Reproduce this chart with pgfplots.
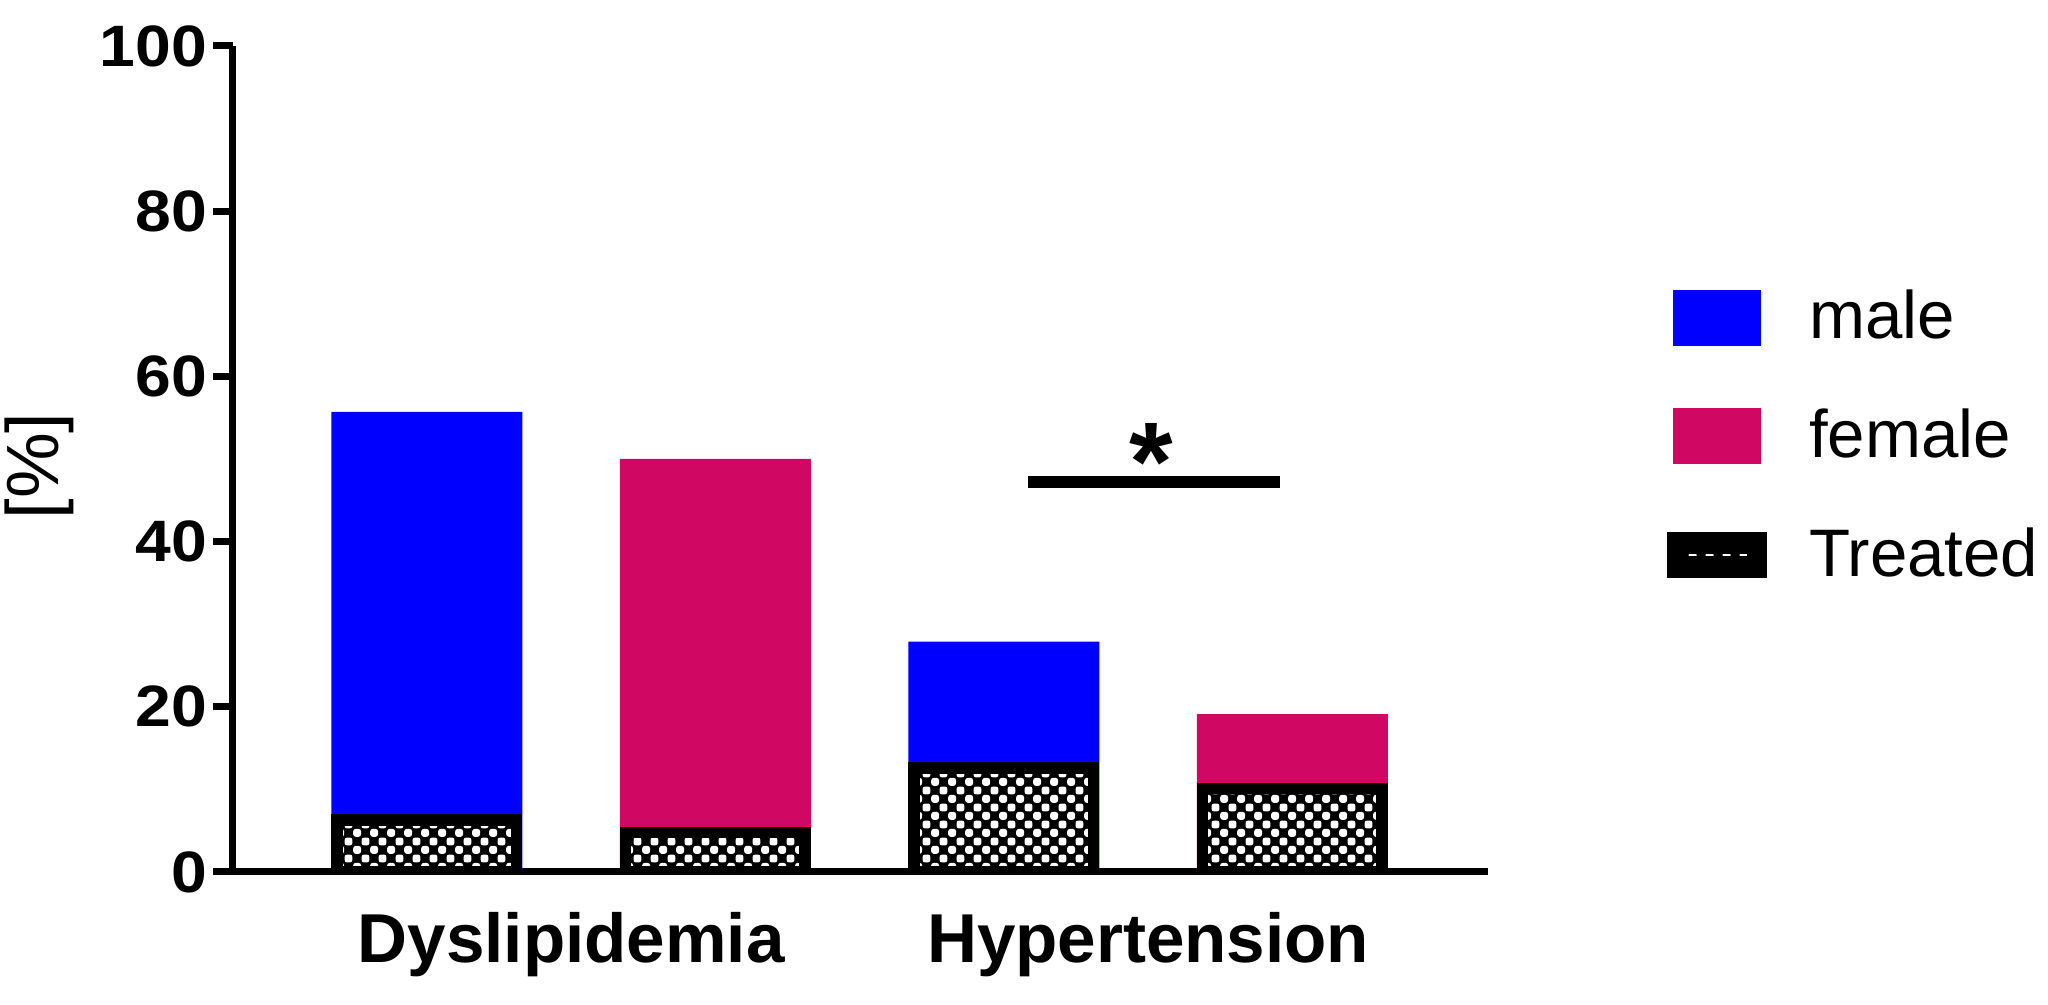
\documentclass[border=0pt]{standalone}
\usepackage{fontspec}
\setmainfont{Liberation Sans}
\newfontfamily\tickfont[FakeStretch=1.1]{Liberation Sans}
\usepackage{pgfplots}
\pgfplotsset{compat=1.18}
\usetikzlibrary{patterns}
\definecolor{malec}{RGB}{0,0,255}
\definecolor{femalec}{RGB}{208,8,100}
\pgfdeclarepatternformonly{treatdots}{\pgfqpoint{0pt}{0pt}}{\pgfqpoint{4.2pt}{4.2pt}}{\pgfqpoint{4.2pt}{4.2pt}}{%
  \pgfsetcornersarced{\pgfqpoint{0.65pt}{0.65pt}}%
  \pgfpathrectangle{\pgfqpoint{0.05pt}{0.05pt}}{\pgfqpoint{2.0pt}{2.0pt}}%
  \pgfpathrectangle{\pgfqpoint{2.15pt}{2.15pt}}{\pgfqpoint{2.0pt}{2.0pt}}%
  \pgfusepath{fill}}
\begin{document}
\begin{tikzpicture}[x=1pt,y=1pt]
\path[use as bounding box] (0,0) rectangle (512,251.25);
\begin{axis}[
  at={(58.25pt,33.25pt)}, anchor=south west,
  scale only axis, width=313.75pt, height=206.5pt,
  xmin=0.328, xmax=4.678, ymin=0, ymax=100,
  axis x line=bottom, axis y line=left,
  axis line style={-, line width=1.75pt, black},
  ytick={0,20,40,60,80,100},
  tick align=outside, major tick length=5pt,
  y tick style={black, line width=1.75pt},
  xtick={1.5,3.5}, xticklabels={Dyslipidemia,Hypertension},
  x tick style={draw=none},
  /pgf/number format/assume math mode=true,
  yticklabel style={font=\tickfont\fontsize{14.6}{17}\selectfont\bfseries, xshift=2pt},
  xticklabel style={font=\fontsize{17.3}{20}\selectfont\bfseries, yshift=-1.6pt},
  ylabel={[\%]},
  ylabel style={font=\fontsize{18.5}{21}\selectfont, at={(axis description cs:-0.1546,0.4915)}, anchor=center},
  legend style={at={(axis description cs:1.1422,0.715)}, anchor=north west, draw=none, fill=none,
    inner sep=0pt, font=\fontsize{16.8}{19}\selectfont, row sep=12pt, column sep=8.6pt},
  legend cell align=left,
]
\addplot[ybar, bar width=0.662, fill=malec, draw=none,
  legend image code/.code={\fill[malec] (0pt,-7pt) rectangle (22pt,7pt);}]
  coordinates {(1,55.7) (3,27.9)};
\addlegendentry{male}
\addplot[ybar, bar width=0.662, fill=femalec, draw=none,
  legend image code/.code={\fill[femalec] (0pt,-7pt) rectangle (22pt,7pt);}]
  coordinates {(2,50.0) (4,19.1)};
\addlegendentry{female}
\addplot[ybar, bar width=0.622, preaction={fill=black}, pattern=treatdots, pattern color=white,
  draw=black, line width=2.9pt, y filter/.expression={y-0.7},
  legend image code/.code={\fill[black] (0pt,-4.2pt) rectangle (22pt,4.2pt);
     \fill[pattern=treatdots, pattern color=white] (2pt,-1.8pt) rectangle (20pt,1.8pt);}]
  coordinates {(1,7.0) (2,5.5) (3,13.3) (4,10.8)};
\addlegendentry{Treated}
\addplot[black, line width=3pt, forget plot] coordinates {(3.083,47.2) (3.957,47.2)};
\node[font=\fontsize{28}{30}\selectfont\bfseries] at (axis cs:3.51,49.6) {*};
\end{axis}
\end{tikzpicture}
\end{document}
